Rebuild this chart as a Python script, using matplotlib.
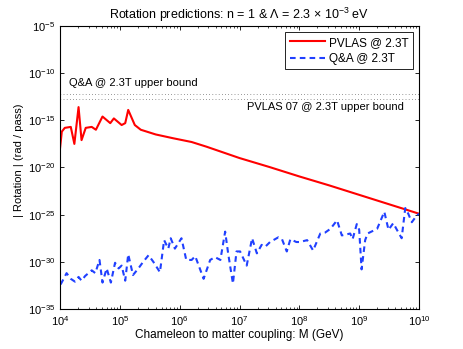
import numpy as np
import matplotlib
matplotlib.use('Agg')
from matplotlib import pyplot as plt

plt.rcParams['font.family'] = ['Liberation Sans', 'DejaVu Sans']
plt.rcParams['mathtext.fontset'] = 'custom'
plt.rcParams['mathtext.rm'] = 'Liberation Sans'
plt.rcParams['mathtext.it'] = 'Liberation Sans:italic'
plt.rcParams['font.size'] = 8.5

# values, as log10 of M (GeV) and log10 of rotation
pvlas_logM = [4.0, 4.03, 4.08, 4.18, 4.24, 4.31, 4.36, 4.43, 4.53, 4.60, 4.71, 4.84,
              4.90, 5.03, 5.09, 5.14, 5.25, 5.35, 5.6, 5.89, 6.2, 6.45, 7.0, 7.5,
              8.0, 8.5, 9.0, 9.5, 10.0]
pvlas_logrot = [-18.0, -16.2, -15.8, -15.7, -17.5, -13.6, -17.1, -15.8, -15.7, -16.0,
                -14.6, -15.3, -14.8, -15.5, -15.3, -13.9, -15.5, -16.0, -16.5, -16.9,
                -17.3, -17.8, -19.0, -19.95, -20.95, -21.9, -22.9, -23.9, -24.9]

qa_logM = [4.01, 4.11, 4.18, 4.25, 4.31, 4.36, 4.42, 4.53, 4.59, 4.66, 4.71, 4.78,
           4.85, 4.92, 4.98, 5.03, 5.09, 5.14, 5.22, 5.31, 5.39, 5.48, 5.56, 5.67,
           5.74, 5.81, 5.85, 5.92, 6.03, 6.11, 6.20, 6.26, 6.40, 6.51, 6.59, 6.68,
           6.76, 6.81, 6.89, 6.95, 7.01, 7.12, 7.21, 7.29, 7.37, 7.43, 7.51, 7.65,
           7.71, 7.79, 7.85, 7.95, 8.01, 8.13, 8.23, 8.35, 8.43, 8.52, 8.63, 8.71,
           8.85, 8.89, 8.96, 9.00, 9.04, 9.10, 9.14, 9.30, 9.42, 9.49, 9.57, 9.63,
           9.71, 9.77, 9.82, 9.88, 9.96, 10.0]
qa_logrot = [-32.4, -31.2, -31.8, -32.1, -31.6, -32.0, -31.5, -30.9, -31.2, -29.8,
             -32.2, -30.7, -32.2, -30.1, -30.7, -30.4, -32.0, -29.2, -31.4, -30.7,
             -30.0, -29.3, -30.0, -31.1, -27.7, -28.6, -27.5, -28.6, -27.5, -29.8,
             -29.8, -29.4, -31.8, -29.8, -29.5, -29.8, -26.8, -29.1, -32.3, -28.9,
             -28.9, -30.4, -27.5, -29.1, -28.2, -28.4, -27.9, -27.4, -27.6, -28.9,
             -27.6, -27.9, -27.9, -27.7, -28.8, -27.0, -26.9, -26.5, -25.6, -27.2,
             -27.0, -27.6, -26.0, -26.6, -30.8, -27.7, -27.0, -26.5, -24.7, -26.6,
             -25.9, -26.6, -27.5, -24.3, -24.9, -25.8, -25.1, -24.9]

qa_bound = 5.5e-13
pvlas07_bound = 1.9e-13

fig = plt.figure(figsize=(4.63, 3.49), dpi=100)
ax = fig.add_axes([0.1296, 0.1146, 0.7754, 0.811])

ax.loglog(10.0 ** np.array(pvlas_logM), 10.0 ** np.array(pvlas_logrot),
          color='red', lw=1.5, label='PVLAS @ 2.3T')
ax.loglog(10.0 ** np.array(qa_logM), 10.0 ** np.array(qa_logrot),
          color='#2040ff', lw=1.5, dashes=(2.7, 2.0), label='Q&A @ 2.3T')

ax.axhline(qa_bound, color='#555555', lw=0.6, ls=(0, (0.8, 3.0)))
ax.axhline(pvlas07_bound, color='#555555', lw=0.6, ls=(0, (0.8, 3.0)))
ax.text(1.4e4, 4e-12, 'Q&A @ 2.3T upper bound', fontsize=8)
ax.text(1.35e7, 1.3e-14, 'PVLAS 07 @ 2.3T upper bound', fontsize=8)

ax.set_xlim(1e4, 1e10)
ax.set_ylim(1e-35, 1e-5)
ax.set_yticks([10.0 ** k for k in range(-35, -4, 5)])
ax.yaxis.set_minor_locator(matplotlib.ticker.NullLocator())
ax.tick_params(which='both', direction='in', top=True, right=True, labelsize=8)
ax.tick_params(which='major', length=3, width=0.6)
ax.tick_params(which='minor', length=1.5, width=0.5)
for s in ax.spines.values():
    s.set_linewidth(0.8)

ax.set_title(r'Rotation predictions: n = 1 & $\Lambda$ = 2.3 $\times$ 10$^{-3}$ eV',
             fontsize=9, pad=5)
ax.set_xlabel('Chameleon to matter coupling: M (GeV)', labelpad=1)
ax.set_ylabel('| Rotation | (rad / pass)', fontsize=8)
ax.yaxis.set_label_coords(-0.1, 0.527)

leg = ax.legend(loc='upper right', handlelength=3.0, handletextpad=0.3,
                borderaxespad=0.5, fancybox=False, edgecolor='k', framealpha=1,
                borderpad=0.4, labelspacing=0.35)
leg.get_frame().set_linewidth(0.6)

fig.savefig('out.png', dpi=100)
